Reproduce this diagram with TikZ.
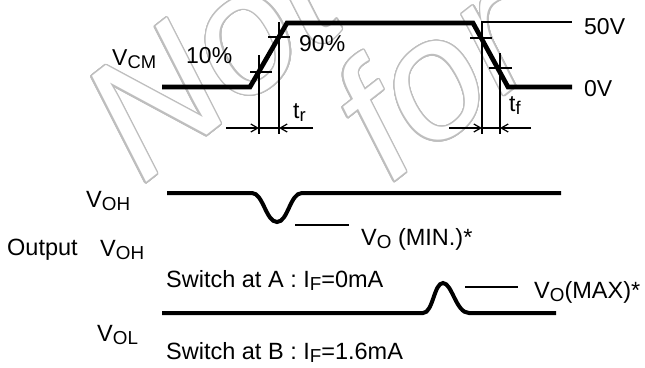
\documentclass[tikz,border=0pt]{standalone}
\usepackage{fontspec}
\setmainfont{Liberation Sans}
\usepackage{contour}
\contourlength{1.3pt}
\contournumber{32}
\usetikzlibrary{arrows.meta}
\definecolor{wmgray}{RGB}{190,190,190}
\makeatletter
\newcommand{\lowsub}[1]{\raisebox{-0.3ex}{\@tempdima=\f@size pt\@tempdima=0.8\@tempdima\fontsize{\strip@pt\@tempdima}{0}\selectfont #1}}
\makeatother
\begin{document}
\begin{tikzpicture}[x=1pt,y=-1pt,
	wave/.style={line width=4.7pt},
	outwave/.style={line width=4pt},
	guide/.style={line width=1.6pt},
	dim/.style={line width=1.2pt,-{Straight Barb[length=7pt,width=8pt]}},
	wmark/.style={anchor=base west,inner sep=0pt,rotate=38,text=white,font=\fontsize{170}{170}\selectfont\itshape},
	toplbl/.style={anchor=base west,inner sep=0pt,font=\fontsize{23}{27}\selectfont},
	botlbl/.style={anchor=base west,inner sep=0pt,font=\fontsize{23.5}{28}\selectfont}]
	\useasboundingbox (0,0) rectangle (645,367);
	\node[wmark] (wm1) at (142,186) {\contour{wmgray}{Not}};
	\node[wmark] (wm2) at (390,185) {\contour{wmgray}{for}};
	\coordinate (a0) at (162,87);
	\coordinate (a1) at (250,87);
	\coordinate (a2) at (287,23);
	\coordinate (a3) at (473,23);
	\coordinate (a4) at (508,87);
	\coordinate (a5) at (572,87);
	\draw[wave] (a0) -- (a1) -- (a2) -- (a3) -- (a4) -- (a5);
	\draw[guide] (481,22) -- (572,22);
	\draw[guide] (250,72) -- (272,72);
	\draw[guide] (268,37) -- (290,37);
	\draw[guide] (259,55) -- (259,134);
	\draw[guide] (279,22) -- (279,134);
	\draw[guide] (470,38) -- (492,38);
	\draw[guide] (489,68) -- (512,68);
	\draw[guide] (482,23) -- (482,134);
	\draw[guide] (500,53) -- (500,134);
	\draw[dim] (226,128) -- (259,128);
	\draw[dim] (313,128) -- (279,128);
	\draw[guide] (259,128) -- (279,128);
	\draw[dim] (449,128) -- (482,128);
	\draw[dim] (531,128) -- (500,128);
	\draw[guide] (482,128) -- (500,128);
	\node[toplbl] (vcm) at (112,65) {V\lowsub{CM}};
	\node[toplbl] (p10) at (186,63.5) {10\%};
	\node[toplbl] (p90) at (299,51) {90\%};
	\node[toplbl] (v50) at (584,34) {50V};
	\node[toplbl] (v0) at (584,96) {0V};
	\node[toplbl] (tr) at (293,118) {t\lowsub{r}};
	\node[toplbl] (tf) at (509,111) {t\lowsub{f}};
	\coordinate (h0) at (167,193);
	\coordinate (h1) at (252,193);
	\coordinate (h2) at (277,222);
	\coordinate (h3) at (302,193);
	\coordinate (h4) at (561,193);
	\draw[outwave] (h0) -- (h1) .. controls (263,193) and (266,222) .. (h2) .. controls (288,222) and (290,193) .. (h3) -- (h4);
	\draw[guide] (295,225) -- (349,225);
	\coordinate (l0) at (162,313);
	\coordinate (l1) at (423,313);
	\coordinate (l2) at (443,283);
	\coordinate (l3) at (469,313);
	\coordinate (l4) at (556,313);
	\draw[outwave] (l0) -- (l1) .. controls (433,313) and (434,283) .. (l2) .. controls (452,283) and (456,313) .. (l3) -- (l4);
	\draw[guide] (465,287) -- (518,287);
	\node[botlbl] (voh1) at (86,207) {V\lowsub{OH}};
	\node[botlbl] (outp) at (7,255) {Output};
	\node[botlbl] (voh2) at (100,256) {V\lowsub{OH}};
	\node[botlbl] (vol) at (97,341) {V\lowsub{OL}};
	\node[botlbl] (vomin) at (361,245) {V\lowsub{O} (MIN.)*};
	\node[botlbl] (swa) at (166,287) {Switch at A : I\lowsub{F}=0mA};
	\node[botlbl] (swb) at (166,359) {Switch at B : I\lowsub{F}=1.6mA};
	\node[botlbl] (vomax) at (534,298) {V\lowsub{O}(MAX)*};
\end{tikzpicture}
\end{document}
